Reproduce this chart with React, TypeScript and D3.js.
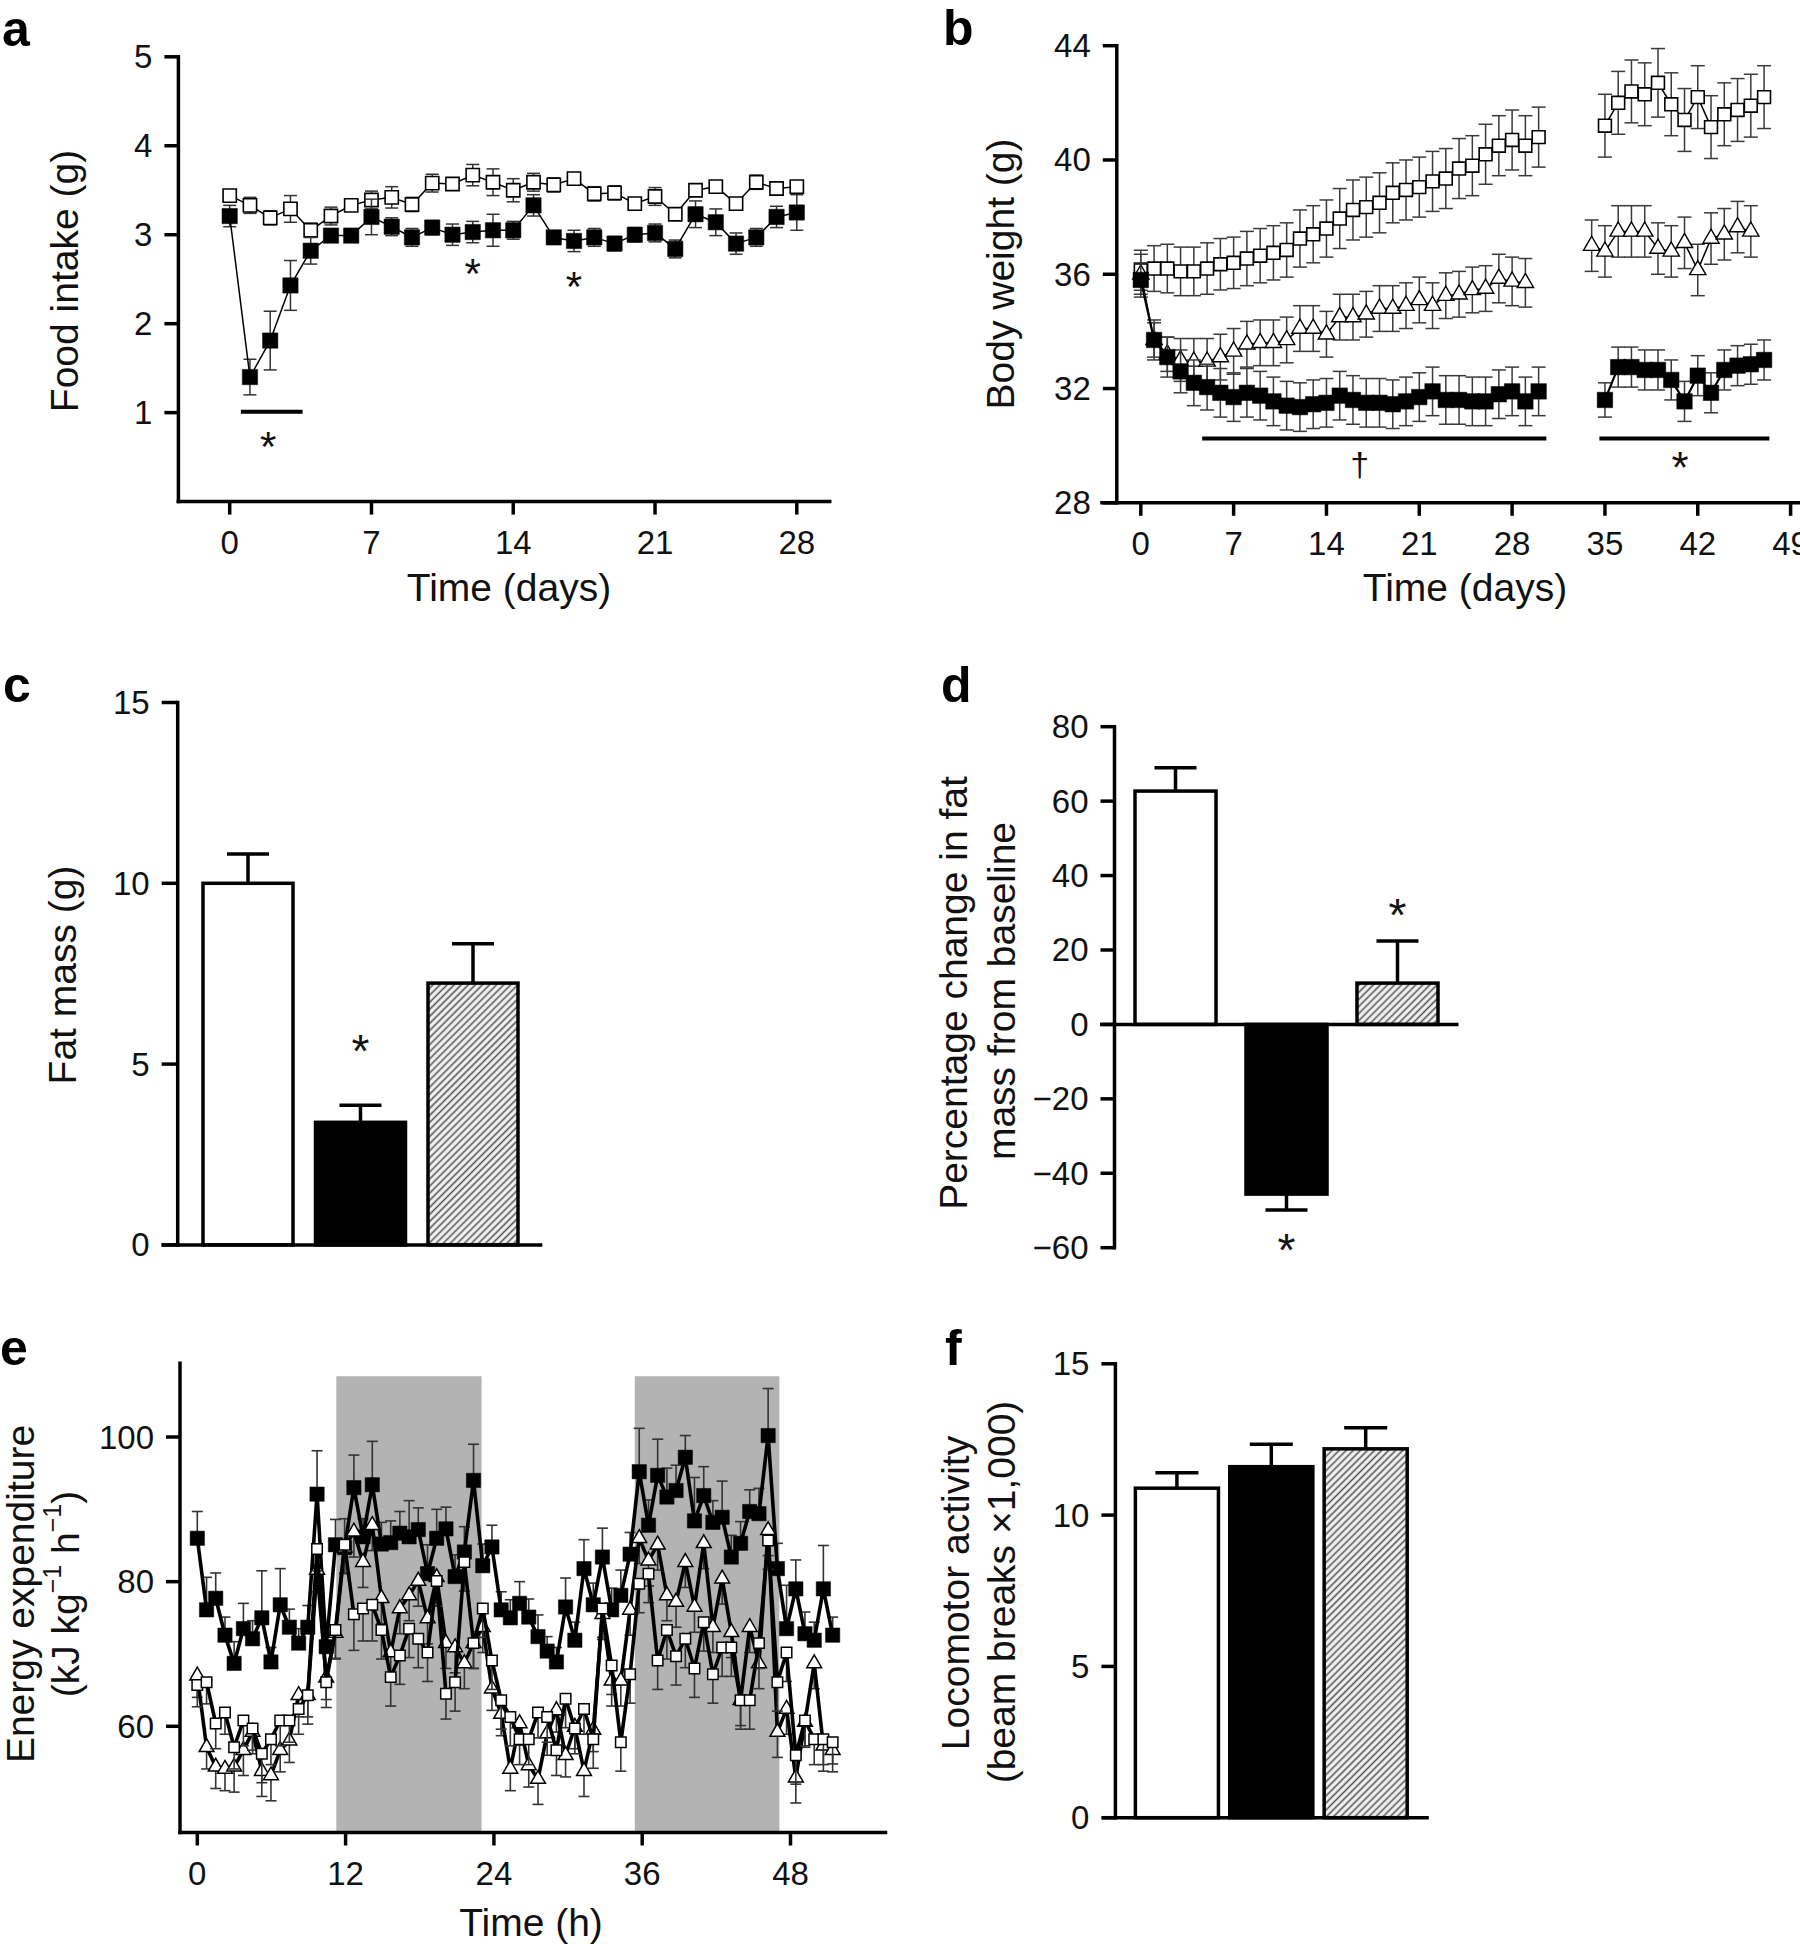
import React from "react";
import * as d3 from "d3";

const FONT = "'Liberation Sans', Arial, Helvetica, sans-serif";
const TICK = 33;
const TITLE = 39;
const LETTER = 50;
const STAR = 46;

// ---------------- Panel a : food intake ----------------
const aDays = [0,1,2,3,4,5,6,7,8,9,10,11,12,13,14,15,16,17,18,19,20,21,22,23,24,25,26,27,28];
const aOpenMean = [3.44,3.33,3.19,3.29,3.05,3.21,3.33,3.39,3.42,3.34,3.58,3.57,3.67,3.59,3.50,3.59,3.56,3.63,3.46,3.47,3.35,3.43,3.23,3.50,3.54,3.35,3.59,3.52,3.54];
const aOpenErr = [0.04,0.09,0.08,0.15,0.08,0.1,0.03,0.1,0.12,0.08,0.1,0.05,0.12,0.15,0.13,0.1,0.08,0.03,0.08,0.08,0.05,0.1,0.05,0.05,0.05,0.05,0.08,0.05,0.05];
const aFilledMean = [3.21,1.40,1.81,2.43,2.82,2.99,2.99,3.20,3.09,2.97,3.08,3.00,3.03,3.05,3.05,3.33,2.97,2.93,2.97,2.90,3.00,3.02,2.84,3.23,3.14,2.90,2.97,3.20,3.25];
const aFilledErr = [0.12,0.2,0.33,0.28,0.15,0.05,0.06,0.2,0.1,0.1,0.08,0.12,0.12,0.18,0.1,0.12,0.05,0.12,0.1,0.08,0.08,0.1,0.1,0.15,0.15,0.12,0.1,0.12,0.2];
const aTicksX = [0,7,14,21,28];
const aTicksY = [1,2,3,4,5];
const aSigBar = [0.55, 3.6];
const aSigBarValue = 1.01;
const aStarDays = [1.9, 12, 17];
const aStarValues = [0.73, 2.67, 2.53];

// ---------------- Panel b : body weight ----------------
const bDays1 = [0,1,2,3,4,5,6,7,8,9,10,11,12,13,14,15,16,17,18,19,20,21,22,23,24,25,26,27,28,29,30];
const bDays2 = [35,36,37,38,39,40,41,42,43,44,45,46,47];
const bTriDays1 = [0,1,2,3,4,5,6,7,8,9,10,11,12,13,14,15,16,17,18,19,20,21,22,23,24,25,26,27,28,29];
const bTriDays2 = [34,35,36,37,38,39,40,41,42,43,44,45,46];
const bOpen1 = [36.14,36.2,36.2,36.1,36.1,36.2,36.35,36.4,36.55,36.65,36.75,36.85,37.25,37.4,37.6,37.95,38.25,38.35,38.5,38.85,38.95,39.05,39.25,39.35,39.7,39.8,40.2,40.5,40.7,40.5,40.8];
const bOpen2 = [41.2,42.0,42.4,42.3,42.7,41.95,41.4,42.2,41.15,41.6,41.75,41.9,42.2];
const bOpenErr1 = [0.7,0.8,0.85,0.85,0.85,0.9,0.9,0.9,0.95,0.95,0.95,0.95,1.0,1.0,1.0,1.05,1.05,1.05,1.05,1.05,1.05,1.05,1.05,1.05,1.05,1.05,1.05,1.05,1.05,1.05,1.05];
const bOpenErr2 = [1.1,1.1,1.1,1.1,1.2,1.1,1.1,1.1,1.1,1.1,1.1,1.1,1.1];
const bTri1 = [36.0,33.7,33.2,33.0,32.95,32.95,33.1,33.3,33.55,33.6,33.6,33.7,34.1,34.1,33.9,34.5,34.5,34.6,34.8,34.8,34.9,35.1,34.9,35.25,35.3,35.45,35.5,35.85,35.75,35.7];
const bTri2 = [37.0,36.8,37.5,37.5,37.5,36.9,36.8,37.1,36.15,37.25,37.4,37.65,37.5];
const bTriErr1 = [0.7,0.6,0.6,0.75,0.8,0.8,0.8,0.8,0.8,0.8,0.8,0.8,0.8,0.8,0.8,0.8,0.8,0.8,0.8,0.8,0.8,0.8,0.8,0.8,0.8,0.8,0.8,0.85,0.85,0.85];
const bTriErr2 = [0.9,0.9,0.9,0.9,0.9,0.9,0.9,0.9,0.9,0.9,0.9,0.9,0.9];
const bFilled1 = [35.8,33.7,33.1,32.6,32.2,32.05,31.85,31.7,31.85,31.75,31.55,31.4,31.35,31.45,31.5,31.75,31.6,31.5,31.5,31.45,31.55,31.7,31.9,31.6,31.6,31.55,31.55,31.8,31.9,31.55,31.9];
const bFilled2 = [31.6,32.75,32.75,32.65,32.65,32.3,31.55,32.45,31.85,32.65,32.8,32.85,33.0];
const bFilledErr1 = [0.6,0.7,0.7,0.75,0.8,0.8,0.85,0.85,0.85,0.85,0.85,0.85,0.85,0.85,0.85,0.85,0.85,0.85,0.85,0.85,0.85,0.85,0.85,0.85,0.85,0.85,0.85,0.85,0.85,0.85,0.85];
const bFilledErr2 = [0.6,0.7,0.7,0.7,0.7,0.7,0.7,0.7,0.7,0.7,0.7,0.7,0.7];
const bTicksX = [0,7,14,21,28,35,42,49];
const bTicksY = [28,32,36,40,44];
const bSigBars = [[4.63, 30.58], [34.58, 47.4]];
const bSigValue = 30.25;
const bDagger = [16.5, 29.3];
const bStar = [40.66, 29.6];

// ---------------- Panels c, d, f : bar groups ----------------
const groups = ["Control", "Treated", "Pair-fed"];
const cMeans = [10.0, 3.39, 7.24];
const cErrs = [0.81, 0.47, 1.09];
const cTicks = [0, 5, 10, 15];
const cStarGroup = 1;
const cStarValue = 5.67;

const dMeans = [62.7, -45.6, 11.1];
const dErrs = [6.3, 4.3, 11.3];
const dTicks = [-60, -40, -20, 0, 20, 40, 60, 80];
const dStarGroups = [2, 1];
const dStarValues = [32.3, -57.8];

const fMeans = [10.89, 11.6, 12.19];
const fErrs = [0.51, 0.74, 0.70];
const fTicks = [0, 5, 10, 15];

// ---------------- Panel e : energy expenditure ----------------
const eTime = [0,0.75,1.49,2.24,2.98,3.73,4.47,5.22,5.96,6.71,
  7.45,8.2,8.94,9.69,10.43,11.18,11.92,12.67,13.41,14.16,
  14.9,15.65,16.39,17.14,17.88,18.63,19.37,20.12,20.86,21.61,
  22.35,23.1,23.84,24.59,25.33,26.08,26.82,27.57,28.31,29.06,
  29.8,30.55,31.29,32.04,32.78,33.53,34.27,35.02,35.76,36.51,
  37.25,38.0,38.74,39.49,40.23,40.98,41.72,42.47,43.21,43.96,
  44.7,45.45,46.19,46.94,47.68,48.43,49.17,49.92,50.66,51.41];
const eFilled = [86.0,76.1,77.7,72.6,68.7,73.5,72.1,75.0,68.9,76.8,
  73.7,71.5,73.7,92.1,71.0,85.1,84.7,93.0,86.2,93.4,
  85.2,85.4,86.7,86.2,87.2,81.1,86.0,87.3,80.7,84.1,
  94.0,82.2,84.8,76.1,75.0,77.0,75.1,72.4,70.4,68.9,
  76.5,71.9,81.8,76.8,83.4,76.1,78.1,83.8,95.2,87.8,
  94.7,91.7,92.6,97.2,88.4,91.9,88.2,88.9,83.4,85.3,
  89.7,89.4,100.2,81.8,73.5,79.0,72.8,71.9,79.0,72.6];
const eFilledErr = [3.7,4.5,3.5,2.5,3,3.5,2.5,6.5,2,5,
  2.5,2,3,6,2,3.5,4,4.5,2.5,6,
  3,3,3,5,3,4,4,3,3,3.5,
  5,3,3,2.5,2.5,3,2.5,3,2,2,
  4,2.5,4,3,4,3,3.5,3,6,3.5,
  5,4,3.5,3,6,4,3,5,3,3,
  3,3.5,6.5,3.5,6,4,3,2.5,6,2.5];
const eOpen = [65.7,66.1,60.4,61.9,57.1,60.8,59.7,56.2,58.2,60.8,
  60.8,62.4,64.3,84.5,66.1,73.3,85.1,75.5,76.3,76.8,
  73.3,66.8,69.8,73.5,72.1,70.2,80.1,64.5,66.1,82.7,
  71.5,76.3,69.1,63.6,61.3,58.2,58.2,61.9,61.3,56.7,
  63.8,59.7,62.4,58.2,76.3,68.4,57.8,67.2,79.7,81.1,
  69.1,73.3,69.7,72.1,68.0,74.4,67.2,70.9,70.9,63.6,
  63.6,71.5,85.7,66.1,70.2,56.0,60.8,58.2,58.2,57.8];
const eOpenErr = [3,3,3.5,3,3,3.5,3,4,3.5,3.5,
  3,3.5,4,3,3.5,4,4,5,4.5,5,
  4,4,4,4,4,4,3.5,3.5,4,4,
  3.5,4,4,4,4,3.5,3.5,3.5,3.5,3.5,
  4,3.5,3.5,4,4,4,4,4,4,4,
  4,4,4,4,4,4,4,4,4,4,
  4,3.5,4,4,4,4,3.5,3.5,3.5,3];
const eTri = [67.0,57.1,54.4,54.1,54.4,56.7,59.2,53.8,53.2,56.7,
  58.0,64.3,64.3,81.6,66.7,72.9,84.7,86.9,82.7,87.8,
  77.7,70.2,76.3,78.1,80.1,74.9,80.6,71.5,70.9,68.7,
  71.5,73.7,65.2,61.7,54.1,60.4,54.6,52.7,59.0,62.2,
  56.0,59.9,53.8,59.5,75.5,66.3,66.3,76.1,86.0,82.9,
  85.1,78.1,77.2,82.7,76.5,85.3,73.7,80.4,73.0,63.6,
  73.7,68.7,87.1,59.2,62.4,52.9,60.6,68.7,57.3,56.7];
const eTriErr = [3,3,3,3,3.5,3.5,3,3.5,3.5,3,
  3,3,3,3,3,3.5,3.5,3.5,3.5,3.5,
  3.5,3.5,3.5,3.5,3.5,3.5,3.5,3.5,3.5,3.5,
  3.5,3.5,3,3,3,3,3,3.5,3,3,
  3,3,3.5,3,3.5,3.5,3.5,3.5,3.5,3.5,
  3.5,3.5,3.5,3.5,3.5,3.5,3.5,3.5,3.5,3.5,
  3.5,3.5,3.5,3.5,3.5,3.5,3.5,3.5,3.5,3];
const eTicksX = [0, 12, 24, 36, 48];
const eTicksY = [60, 80, 100];
const eDarkStart = [11.25, 35.4];
const eDarkEnd = [23.0, 47.1];
const eDarkTop = 108.4;

// ---------------- helpers ----------------
type Lin = d3.ScaleLinear<number, number>;

function Series(props: {
  xs: number[]; ys: number[]; errs: number[]; sx: Lin; sy: Lin;
  kind: "filled" | "open" | "tri"; size: number; lineW: number;
  err: "both" | "up" | "down"; cap: number; errW: number; errColor?: string;
  markerStroke?: number;
}) {
  const { xs, ys, errs, sx, sy, kind, size, lineW, err, cap, errW } = props;
  const errColor = props.errColor ?? "#333";
  const line = d3.line<number>().x((_, i) => sx(xs[i])).y((d) => sy(d));
  const shape = kind === "tri" ? d3.symbolTriangle : d3.symbolSquare;
  const sym = d3.symbol().type(shape).size(size)() as string;
  return (
    <g>
      {ys.map((v, i) => {
        const e = errs[i] ?? 0;
        const cx = sx(xs[i]);
        const yT = err !== "down" ? sy(v + e) : sy(v);
        const yB = err !== "up" ? sy(v - e) : sy(v);
        return (
          <g key={"e" + i} stroke={errColor} strokeWidth={errW}>
            <line x1={cx} x2={cx} y1={yT} y2={yB} />
            {err !== "down" && <line x1={cx - cap / 2} x2={cx + cap / 2} y1={yT} y2={yT} />}
            {err !== "up" && <line x1={cx - cap / 2} x2={cx + cap / 2} y1={yB} y2={yB} />}
          </g>
        );
      })}
      <path d={line(ys) ?? ""} fill="none" stroke="#000" strokeWidth={lineW} strokeLinejoin="round" />
      {ys.map((v, i) => (
        <path
          key={"m" + i}
          d={sym}
          transform={`translate(${sx(xs[i])},${sy(v)})`}
          fill={kind === "filled" ? "#000" : "#fff"}
          stroke="#000"
          strokeWidth={kind === "filled" ? 0.5 : props.markerStroke ?? 1.6}
        />
      ))}
    </g>
  );
}

function YAxis(props: { ax: number; sy: (v: number) => number; ticks: number[]; y0: number; y1: number; tl?: number; sw?: number }) {
  const { ax, sy, ticks, y0, y1 } = props;
  const tl = props.tl ?? 14;
  const sw = props.sw ?? 3.5;
  const fmt = (t: number) => (t < 0 ? "\u2212" + Math.abs(t) : String(t));
  return (
    <g>
      <line x1={ax} x2={ax} y1={y0} y2={y1} stroke="#000" strokeWidth={sw} strokeLinecap="square" />
      {ticks.map((t) => (
        <g key={t}>
          <line x1={ax - tl} x2={ax} y1={sy(t)} y2={sy(t)} stroke="#000" strokeWidth={sw} />
          <text x={ax - tl - 12} y={sy(t)} textAnchor="end" dominantBaseline="central" fontSize={TICK} fill="#111">
            {fmt(t)}
          </text>
        </g>
      ))}
    </g>
  );
}

function XAxis(props: { ay: number; sx: Lin; ticks: number[]; x0: number; x1: number; tl?: number; sw?: number }) {
  const { ay, sx, ticks, x0, x1 } = props;
  const tl = props.tl ?? 13;
  const sw = props.sw ?? 3.5;
  return (
    <g>
      <line x1={x0} x2={x1} y1={ay} y2={ay} stroke="#000" strokeWidth={sw} strokeLinecap="square" />
      {ticks.map((t) => (
        <g key={t}>
          <line x1={sx(t)} x2={sx(t)} y1={ay} y2={ay + tl} stroke="#000" strokeWidth={sw} />
          <text x={sx(t)} y={ay + 52} textAnchor="middle" fontSize={TICK} fill="#111">
            {t}
          </text>
        </g>
      ))}
    </g>
  );
}

function VTitle(props: { cx: number; cy: number; children: React.ReactNode }) {
  return (
    <text
      transform={`translate(${props.cx},${props.cy}) rotate(-90)`}
      textAnchor="middle"
      dominantBaseline="central"
      fontSize={TITLE}
      fill="#111"
    >
      {props.children}
    </text>
  );
}

function Star(props: { x: number; y: number; ch?: string; fs?: number; off?: number }) {
  const fs = props.fs ?? STAR;
  const off = props.off ?? 0.58;
  return (
    <text x={props.x} y={props.y + off * fs} textAnchor="middle" fontSize={fs} fill="#111">
      {props.ch ?? "*"}
    </text>
  );
}

function Bars(props: {
  sx: d3.ScaleBand<string>; sy: Lin; means: number[]; errs: number[]; cap: number;
}) {
  const { sx, sy, means, errs, cap } = props;
  const fills = ["#fff", "#000", "url(#hatch)"];
  return (
    <g>
      {groups.map((g, i) => {
        const x0 = sx(g) ?? 0;
        const w = sx.bandwidth();
        const cx = x0 + w / 2;
        const v = means[i];
        const e = errs[i];
        const yTop = sy(Math.max(0, v));
        const yBot = sy(Math.min(0, v));
        const yE = sy(v + (v >= 0 ? e : -e));
        return (
          <g key={g}>
            <line x1={cx} x2={cx} y1={sy(v)} y2={yE} stroke="#000" strokeWidth={3.5} />
            <line x1={cx - cap / 2} x2={cx + cap / 2} y1={yE} y2={yE} stroke="#000" strokeWidth={3.5} />
            <rect x={x0} y={yTop} width={w} height={yBot - yTop} fill={fills[i]} stroke="#000" strokeWidth={3.5} />
          </g>
        );
      })}
    </g>
  );
}

// ---------------- panels ----------------
function PanelA() {
  const sx = d3.scaleLinear().domain([0, 28]).range([229.7, 796.8]);
  const sy = d3.scaleLinear().domain([0, 5]).range([501.6, 56.8]);
  const ax = 178.4;
  return (
    <g>
      <text x={2} y={46} fontSize={LETTER} fontWeight="bold">a</text>
      <Series xs={aDays} ys={aOpenMean} errs={aOpenErr} sx={sx} sy={sy} kind="open" size={175} lineW={1.5} err="both" cap={13} errW={1.5} />
      <Series xs={aDays} ys={aFilledMean} errs={aFilledErr} sx={sx} sy={sy} kind="filled" size={235} lineW={1.5} err="both" cap={13} errW={1.5} />
      <line x1={sx(aSigBar[0])} x2={sx(aSigBar[1])} y1={sy(aSigBarValue)} y2={sy(aSigBarValue)} stroke="#000" strokeWidth={4} />
      {aStarDays.map((d, i) => (
        <Star key={i} x={sx(d)} y={sy(aStarValues[i])} fs={42} />
      ))}
      <YAxis ax={ax} sy={sy} ticks={aTicksY} y0={sy(5)} y1={sy(0)} />
      <XAxis ay={sy(0)} sx={sx} ticks={aTicksX} x0={ax} x1={829.7} />
      <text x={509} y={601} textAnchor="middle" fontSize={TITLE} fill="#111">Time (days)</text>
      <VTitle cx={64} cy={281}>Food intake (g)</VTitle>
    </g>
  );
}

function PanelB() {
  const sx = d3.scaleLinear().domain([0, 49]).range([1140.8, 1790.6]);
  const sy = d3.scaleLinear().domain([28, 44]).range([502.8, 45.7]);
  const ax = 1116.8;
  const common = { sx, sy, lineW: 1.5, err: "both" as const, cap: 14, errW: 1.5, errColor: "#3a3a3a" };
  return (
    <g>
      <text x={943} y={45} fontSize={LETTER} fontWeight="bold">b</text>
      <Series xs={bDays1} ys={bOpen1} errs={bOpenErr1} kind="open" size={165} {...common} />
      <Series xs={bDays2} ys={bOpen2} errs={bOpenErr2} kind="open" size={165} {...common} />
      <Series xs={bTriDays1} ys={bTri1} errs={bTriErr1} kind="tri" size={115} {...common} markerStroke={1.4} />
      <Series xs={bTriDays2} ys={bTri2} errs={bTriErr2} kind="tri" size={115} {...common} markerStroke={1.4} />
      <Series xs={bDays1} ys={bFilled1} errs={bFilledErr1} kind="filled" size={240} {...common} lineW={2.2} />
      <Series xs={bDays2} ys={bFilled2} errs={bFilledErr2} kind="filled" size={240} {...common} lineW={2.2} />
      {bSigBars.map((s, i) => (
        <line key={i} x1={sx(s[0])} x2={sx(s[1])} y1={sy(bSigValue)} y2={sy(bSigValue)} stroke="#000" strokeWidth={4} />
      ))}
      <Star x={sx(bDagger[0])} y={sy(bDagger[1])} ch={"\u2020"} fs={34} off={0.3} />
      <Star x={sx(bStar[0])} y={sy(bStar[1])} fs={44} />
      <YAxis ax={ax} sy={sy} ticks={bTicksY} y0={sy(44)} y1={sy(28)} />
      <XAxis ay={sy(28)} sx={sx} ticks={bTicksX} x0={1102} x1={1800} />
      <text x={1465} y={601} textAnchor="middle" fontSize={TITLE} fill="#111">Time (days)</text>
      <VTitle cx={1000} cy={274}>Body weight (g)</VTitle>
    </g>
  );
}

function PanelC() {
  const sx = d3.scaleBand<string>().domain(groups).range([191.75, 529.25]).paddingInner(0.2).paddingOuter(0.1);
  const sy = d3.scaleLinear().domain([0, 15]).range([1244.9, 702.5]);
  const ax = 177.7;
  const starX = (sx(groups[cStarGroup]) ?? 0) + sx.bandwidth() / 2;
  return (
    <g>
      <text x={3} y={702} fontSize={LETTER} fontWeight="bold">c</text>
      <Bars sx={sx} sy={sy} means={cMeans} errs={cErrs} cap={42} />
      <Star x={starX} y={sy(cStarValue)} />
      <YAxis ax={ax} sy={sy} ticks={cTicks} y0={sy(15)} y1={sy(0)} tl={16} />
      <line x1={161.5} x2={542.3} y1={sy(0)} y2={sy(0)} stroke="#000" strokeWidth={3.5} />
      <VTitle cx={62.5} cy={975}>Fat mass (g)</VTitle>
    </g>
  );
}

function PanelD() {
  const sx = d3.scaleBand<string>().domain(groups).range([1112.8, 1460.2]).paddingInner(0.27).paddingOuter(0.2);
  const sy = d3.scaleLinear().domain([-60, 80]).range([1247.7, 726.7]);
  const ax = 1114.5;
  return (
    <g>
      <text x={941} y={702} fontSize={LETTER} fontWeight="bold">d</text>
      <Bars sx={sx} sy={sy} means={dMeans} errs={dErrs} cap={42} />
      {dStarGroups.map((g, i) => (
        <Star key={i} x={(sx(groups[g]) ?? 0) + sx.bandwidth() / 2} y={sy(dStarValues[i])} />
      ))}
      <YAxis ax={ax} sy={sy} ticks={dTicks} y0={sy(80)} y1={sy(-60)} />
      <line x1={1100} x2={1458.5} y1={sy(0)} y2={sy(0)} stroke="#000" strokeWidth={3.5} />
      <VTitle cx={953} cy={993}>Percentage change in fat</VTitle>
      <VTitle cx={1001} cy={991}>mass from baseline</VTitle>
    </g>
  );
}

function PanelE() {
  const sx = d3.scaleLinear().domain([0, 48]).range([197.3, 790.5]);
  const sy = d3.scaleLinear().domain([60, 100]).range([1726.3, 1437]);
  const ax = 180;
  const ay = 1832.5;
  const common = { sx, sy, lineW: 3.6, cap: 11, errW: 1.6, errColor: "#333" };
  return (
    <g>
      <text x={0} y={1365} fontSize={LETTER} fontWeight="bold">e</text>
      {eDarkStart.map((s, i) => (
        <rect key={i} x={sx(s)} y={sy(eDarkTop)} width={sx(eDarkEnd[i]) - sx(s)} height={ay - sy(eDarkTop)} fill="#b3b3b3" />
      ))}
      <Series xs={eTime} ys={eFilled} errs={eFilledErr} kind="filled" size={205} err="up" {...common} />
      <Series xs={eTime} ys={eTri} errs={eTriErr} kind="tri" size={95} err="down" {...common} markerStroke={1.5} />
      <Series xs={eTime} ys={eOpen} errs={eOpenErr} kind="open" size={110} err="down" {...common} markerStroke={1.5} />
      <YAxis ax={ax} sy={sy} ticks={eTicksY} y0={sy(110.2)} y1={ay} />
      <XAxis ay={ay} sx={sx} ticks={eTicksX} x0={ax} x1={885.5} />
      <text x={531} y={1936} textAnchor="middle" fontSize={TITLE} fill="#111">Time (h)</text>
      <VTitle cx={20} cy={1594}>Energy expenditure</VTitle>
      <VTitle cx={65} cy={1594}>
        (kJ kg
        <tspan dy={-13} fontSize={25}>{"\u22121"}</tspan>
        <tspan dy={13}> h</tspan>
        <tspan dy={-13} fontSize={25}>{"\u22121"}</tspan>
        <tspan dy={13}>)</tspan>
      </VTitle>
    </g>
  );
}

function PanelF() {
  const sx = d3.scaleBand<string>().domain(groups).range([1125, 1417.6]).paddingInner(0.12).paddingOuter(0.11);
  const sy = d3.scaleLinear().domain([0, 15]).range([1817.7, 1363.8]);
  const ax = 1115.4;
  return (
    <g>
      <text x={945} y={1365} fontSize={LETTER} fontWeight="bold">f</text>
      <Bars sx={sx} sy={sy} means={fMeans} errs={fErrs} cap={43} />
      <YAxis ax={ax} sy={sy} ticks={fTicks} y0={sy(15)} y1={sy(0)} />
      <line x1={1101.9} x2={1428.8} y1={sy(0)} y2={sy(0)} stroke="#000" strokeWidth={3.5} />
      <VTitle cx={955} cy={1593}>Locomotor activity</VTitle>
      <VTitle cx={1001} cy={1592}>(beam breaks {"\u00d7"}1,000)</VTitle>
    </g>
  );
}

export default function App() {
  return (
    <svg
      width={1800}
      height={1944}
      viewBox="0 0 1800 1944"
      style={{ position: "absolute", left: 0, top: 0, background: "#fff" }}
      fontFamily={FONT}
    >
      <defs>
        <pattern id="hatch" width={5} height={5} patternUnits="userSpaceOnUse" patternTransform="rotate(45)">
          <rect width={5} height={5} fill="#f4f4f4" />
          <line x1={2.5} y1={0} x2={2.5} y2={5} stroke="#555" strokeWidth={1.6} />
        </pattern>
      </defs>
      <rect width={1800} height={1944} fill="#fff" />
      <PanelA />
      <PanelB />
      <PanelC />
      <PanelD />
      <PanelE />
      <PanelF />
    </svg>
  );
}
